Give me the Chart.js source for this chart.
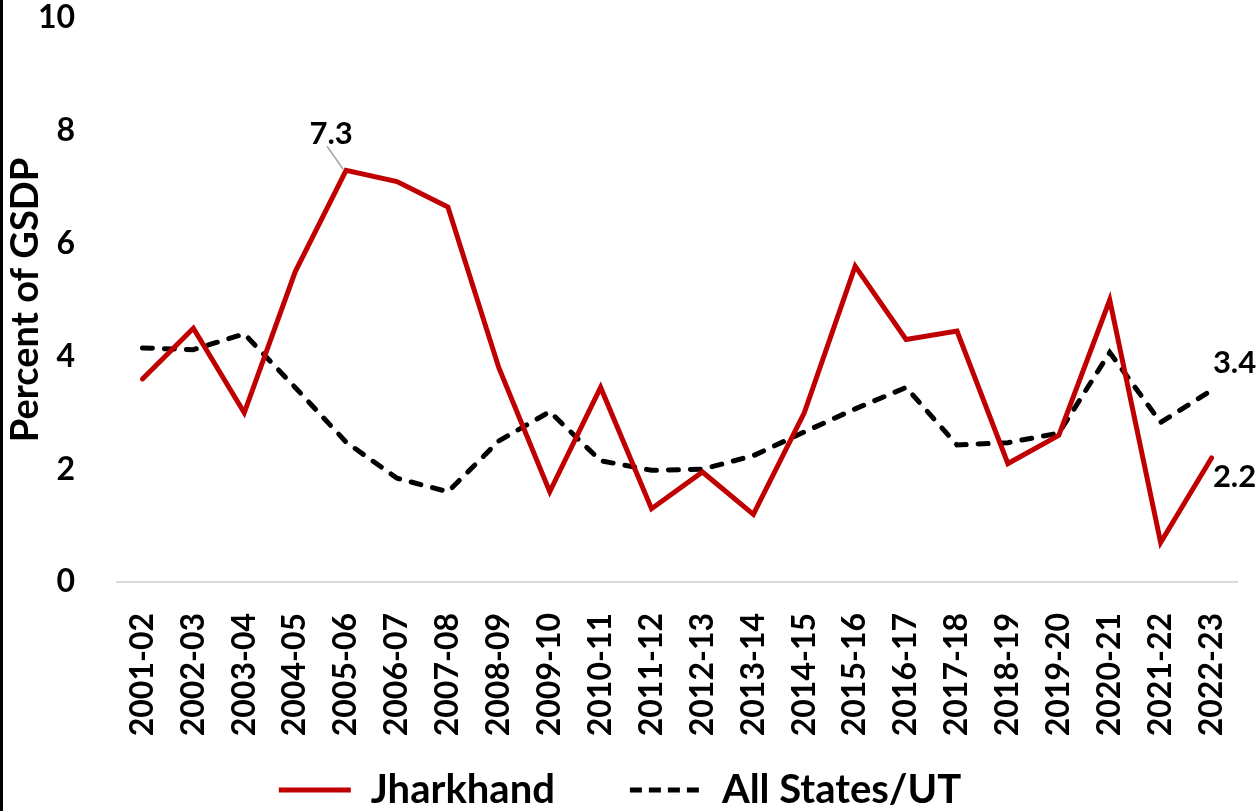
<!DOCTYPE html>
<html>
<head>
<meta charset="utf-8">
<title>Jharkhand vs All States/UT – Percent of GSDP</title>
<script src="https://cdn.jsdelivr.net/npm/chart.js@4/dist/chart.umd.min.js"></script>
<style>
  html, body { margin: 0; padding: 0; background: #fff; }
  #frame { width: 1260px; height: 811px; box-sizing: border-box; border-left: 3px solid #000; overflow: hidden; }
  canvas { display: block; }
</style>
</head>
<body>
<div id="frame"><canvas id="chart" width="1257" height="811"></canvas></div>
<script>
// Fiscal years on the x axis
const years = [
  '2001-02', '2002-03', '2003-04', '2004-05', '2005-06', '2006-07', '2007-08', '2008-09',
  '2009-10', '2010-11', '2011-12', '2012-13', '2013-14', '2014-15', '2015-16', '2016-17',
  '2017-18', '2018-19', '2019-20', '2020-21', '2021-22', '2022-23'
];

// Percent of GSDP, Jharkhand
const jharkhand = [
  3.6, 4.5, 3.0, 5.5, 7.3, 7.1, 6.65, 3.8, 1.6, 3.45, 1.3,
  1.95, 1.2, 3.0, 5.6, 4.3, 4.45, 2.1, 2.6, 5.0, 0.7, 2.2
];

// Percent of GSDP, all States/UTs
const allStates = [
  4.15, 4.12, 4.4, 3.45, 2.48, 1.84, 1.6, 2.5, 3.02, 2.15, 1.98,
  2.0, 2.24, 2.66, 3.07, 3.45, 2.43, 2.47, 2.64, 4.07, 2.83, 3.4
];

// Value axis ticks
const yTicks = [0, 2, 4, 6, 8, 10];

// Values printed beside selected points: series index, point index, offset, leader line
const labelSpecs = [
  { ds: 0, idx: 4,  dx: -15, dy: -36, leader: true },
  { ds: 1, idx: 21, dx: 23,  dy: -27, leader: false },
  { ds: 0, idx: 21, dx: 23,  dy: 19,  leader: false }
];

const FONT = 'Lato, "Open Sans", sans-serif';
Chart.defaults.font.family = FONT;
Chart.defaults.color = '#000';

const pointLabels = {
  id: 'pointLabels',
  afterDatasetsDraw(chart) {
    const ctx = chart.ctx;
    ctx.save();
    ctx.font = 'bold 31px ' + FONT;
    ctx.fillStyle = '#000';
    ctx.textAlign = 'center';
    ctx.textBaseline = 'middle';
    labelSpecs.forEach(s => {
      const el = chart.getDatasetMeta(s.ds).data[s.idx];
      const value = chart.data.datasets[s.ds].data[s.idx];
      const tx = el.x + s.dx;
      const ty = el.y + s.dy;
      if (s.leader) {
        ctx.strokeStyle = '#a6a6a6';
        ctx.lineWidth = 1.5;
        ctx.beginPath();
        ctx.moveTo(tx - 4, ty + 12);
        ctx.lineTo(el.x - 3, el.y - 1);
        ctx.stroke();
      }
      ctx.fillText(value.toFixed(1), tx, ty);
    });
    ctx.restore();
  }
};

// Sets the legend row's vertical centre near the bottom edge
const legendRow = {
  id: 'legendRow',
  afterLayout(chart) {
    const lg = chart.legend;
    if (!lg) return;
    const labels = lg.options.labels;
    const centerY = chart.height - 21;
    lg.top = centerY - labels.padding - labels.font.size / 2;
    lg.bottom = chart.height;
  }
};

new Chart(document.getElementById('chart'), {
  type: 'line',
  data: {
    labels: years,
    datasets: [
      {
        label: 'Jharkhand',
        data: jharkhand,
        borderColor: '#C00000',
        backgroundColor: '#C00000',
        borderWidth: 5,
        borderCapStyle: 'round',
        pointRadius: 0,
        tension: 0,
        fill: false
      },
      {
        label: 'All States/UT',
        data: allStates,
        borderColor: '#000000',
        backgroundColor: '#000000',
        borderWidth: 5,
        borderDash: [10, 12],
        borderCapStyle: 'round',
        pointRadius: 0,
        tension: 0,
        fill: false
      }
    ]
  },
  options: {
    responsive: false,
    animation: false,
    layout: { padding: { left: 0, right: 23, top: 18, bottom: 0 } },
    plugins: {
      tooltip: { enabled: false },
      legend: {
        position: 'bottom',
        maxHeight: 60,
        labels: {
          usePointStyle: true,
          pointStyle: 'line',
          pointStyleWidth: 72,
          padding: 75,
          color: '#000',
          font: { size: 40, weight: 'bold' },
          generateLabels(chart) {
            const base = Chart.defaults.plugins.legend.labels.generateLabels(chart);
            return base.map(item => {
              const ds = chart.data.datasets[item.datasetIndex];
              item.strokeStyle = ds.borderColor;
              item.lineWidth = 5;
              item.lineCap = 'butt';
              item.lineDash = ds.borderDash ? [12, 7] : [];
              return item;
            });
          }
        }
      }
    },
    scales: {
      x: {
        offset: true,
        grid: {
          display: true,
          drawOnChartArea: false,
          drawTicks: true,
          tickLength: 31,
          tickColor: 'rgba(0,0,0,0)'
        },
        border: { display: true, color: '#d9d9d9', width: 2 },
        ticks: {
          autoSkip: false,
          maxRotation: 90,
          minRotation: 90,
          padding: 0,
          color: '#000',
          font: { size: 32, weight: 'bold', lineHeight: 1 }
        },
        afterFit(scale) { scale.height = 169; }
      },
      y: {
        min: yTicks[0],
        max: yTicks[yTicks.length - 1],
        grid: {
          display: true,
          drawOnChartArea: false,
          drawTicks: true,
          tickLength: 42,
          tickColor: 'rgba(0,0,0,0)'
        },
        border: { display: false },
        ticks: {
          stepSize: yTicks[1] - yTicks[0],
          padding: 0,
          color: '#000',
          font: { size: 32, weight: 'bold', lineHeight: 1 }
        },
        title: {
          display: true,
          text: 'Percent of GSDP',
          color: '#000',
          padding: 0,
          font: { size: 38, weight: 'bold' }
        },
        afterFit(scale) { scale.width = 114; }
      }
    }
  },
  plugins: [pointLabels, legendRow]
});
</script>
</body>
</html>
